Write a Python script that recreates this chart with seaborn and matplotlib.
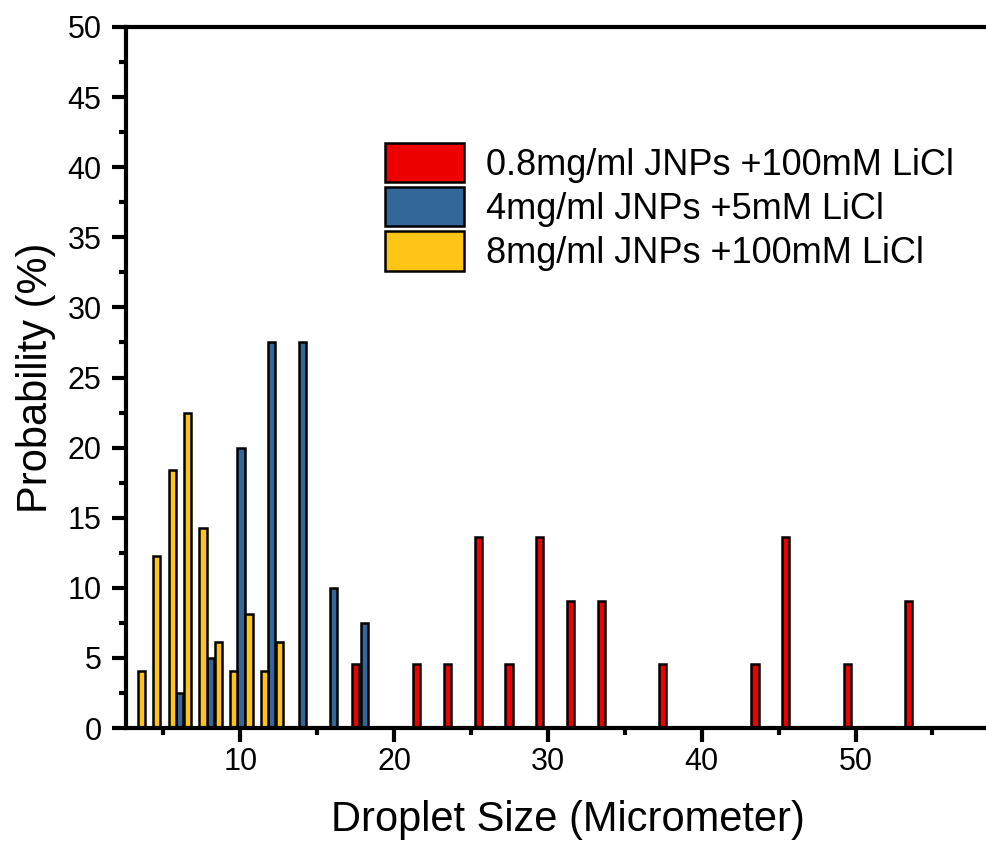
import matplotlib
matplotlib.use("Agg")
import matplotlib.pyplot as plt
from matplotlib.ticker import MultipleLocator
import numpy as np
import pandas as pd
import seaborn as sns

# Droplet-size distributions (bin centre in micrometre, probability in %)
red_label = "0.8mg/ml JNPs +100mM LiCl"
red_size = [17.47, 21.47, 23.47, 25.47, 27.47, 29.47, 31.47, 33.47,
            37.47, 43.47, 45.47, 49.47, 53.47]
red_prob = [4.55, 4.55, 4.55, 13.64, 4.55, 13.64, 9.09, 9.09,
            4.55, 4.55, 13.64, 4.55, 9.09]

blue_label = "4mg/ml JNPs +5mM LiCl"
blue_size = [6.05, 8.05, 10.05, 12.05, 14.05, 16.05, 18.05]
blue_prob = [2.5, 5.0, 20.0, 27.5, 27.5, 10.0, 7.5]

yellow_label = "8mg/ml JNPs +100mM LiCl"
yellow_size = [3.57, 4.57, 5.57, 6.57, 7.57, 8.57, 9.57, 10.57, 11.57, 12.57]
yellow_prob = [4.08, 12.24, 18.37, 22.45, 14.29, 6.12, 4.08, 8.16, 4.08, 6.12]

x_ticks = [10, 20, 30, 40, 50]
y_ticks = [0, 5, 10, 15, 20, 25, 30, 35, 40, 45, 50]

sns.set_style("ticks")
plt.rcParams["font.family"] = ["Liberation Sans", "DejaVu Sans"]
plt.rcParams["text.color"] = "black"
plt.rcParams["axes.labelcolor"] = "black"
plt.rcParams["xtick.color"] = "black"
plt.rcParams["ytick.color"] = "black"

fig = plt.figure(figsize=(9.87, 8.43), dpi=100)
x_lo, x_hi = 2.6, 60.0
px_per_unit = 15.38
ax_w = (x_hi - x_lo) * px_per_unit / 987
ax = fig.add_axes([126.5 / 987, 1 - 728 / 843, ax_w, 701 / 843])

bar_w = 0.47
series = [
    (red_label, red_size, red_prob, "#EE0000", 2.0),
    (blue_label, blue_size, blue_prob, "#336699", 2.0),
    (yellow_label, yellow_size, yellow_prob, "#FFC416", 1.0),
]
for label, xs, ys, color, spacing in series:
    df = pd.DataFrame({"size": xs, "prob": ys})
    sns.barplot(data=df, x="size", y="prob", native_scale=True,
                width=bar_w / spacing, color=color, saturation=1,
                edgecolor="black", linewidth=1.8, errorbar=None,
                label=label, ax=ax)

ax.set_xlim(x_lo, x_hi)
ax.set_ylim(0, 50)
ax.xaxis.set_major_locator(MultipleLocator(10))
ax.xaxis.set_minor_locator(MultipleLocator(5))
ax.yaxis.set_major_locator(MultipleLocator(5))
ax.yaxis.set_minor_locator(MultipleLocator(2.5))
ax.set_xticks(x_ticks)
ax.set_yticks(y_ticks)

for side in ["left", "bottom", "top", "right"]:
    ax.spines[side].set_linewidth(3)
    ax.spines[side].set_color("black")
ax.tick_params(axis="both", which="major", direction="out", length=10,
               width=3, labelsize=22, labelcolor="black", color="black")
ax.tick_params(axis="x", which="major", pad=4)
ax.tick_params(axis="y", which="major", pad=8)
ax.tick_params(axis="both", which="minor", direction="out", length=5,
               width=3, color="black")
ax.tick_params(top=False, right=False, which="both")

ax.set_xlabel("Droplet Size (Micrometer)", fontsize=30, labelpad=16)
ax.set_ylabel("Probability (%)", fontsize=30, labelpad=8)

ax.legend(loc="upper left", bbox_to_anchor=(385 / 987, 1 - 143 / 843),
          bbox_transform=fig.transFigure, frameon=False, fontsize=26,
          handlelength=2.2, handleheight=1.3, labelspacing=0.12,
          handletextpad=0.6, borderpad=0, borderaxespad=0)

fig.savefig("out.png", dpi=100)
